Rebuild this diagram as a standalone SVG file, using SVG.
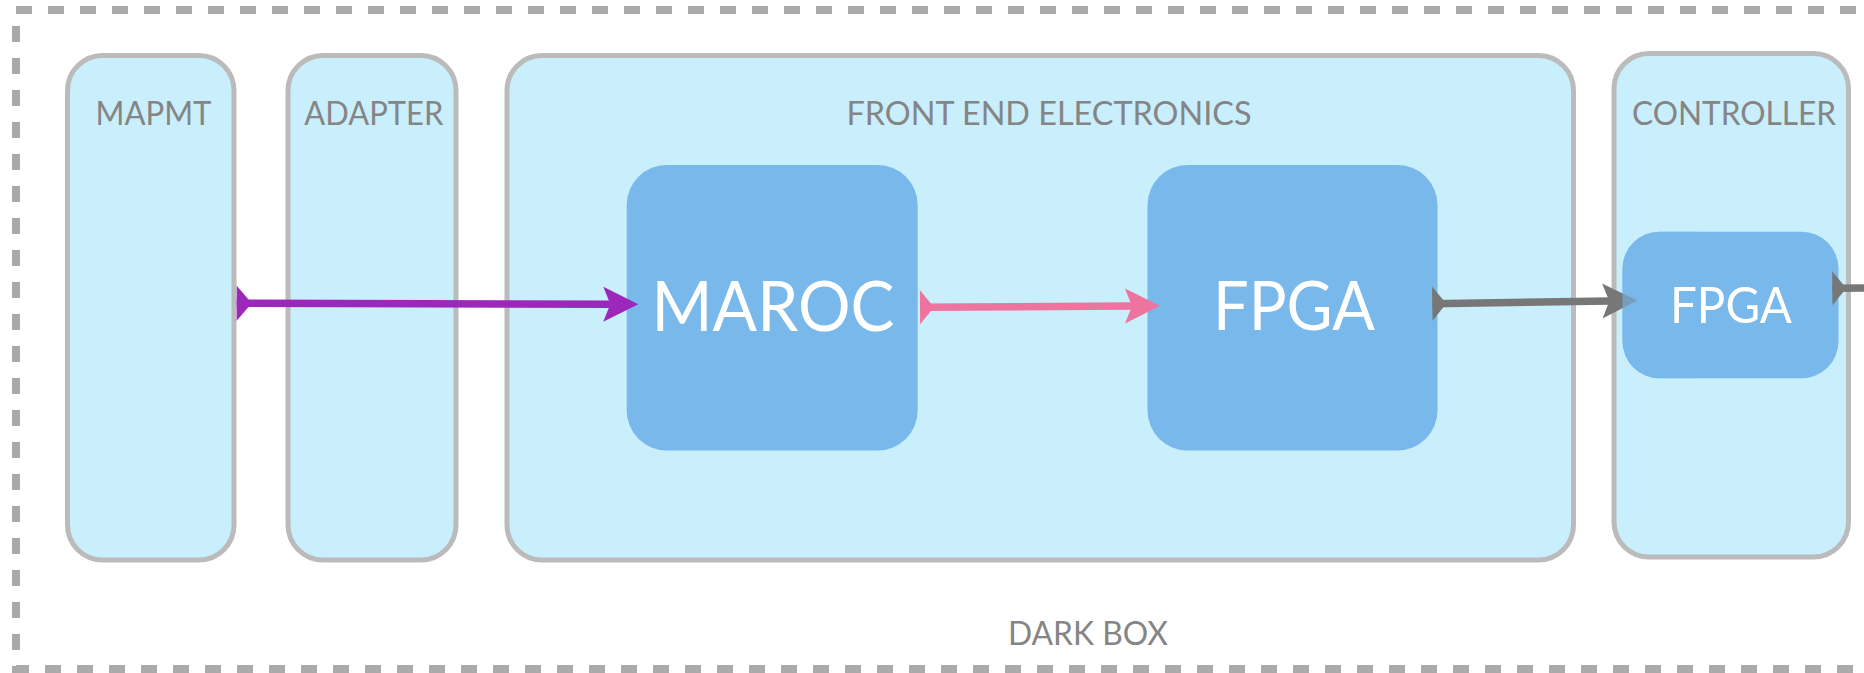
<svg xmlns="http://www.w3.org/2000/svg" xmlns:xlink="http://www.w3.org/1999/xlink" width="1864" height="673" viewBox="0 0 1864 673">
  <style>
    .frame { fill: none; stroke: #aaaaaa; stroke-width: 8; stroke-dasharray: 16 16; }
    .panel { fill: #c9eefc; stroke: #bbbbbb; stroke-width: 5; }
    .chip { fill: #79b8ea; }
    .label { font-family: Lato, "Liberation Sans", sans-serif; font-size: 32.5px; fill: #858585; text-anchor: middle; }
    .chip-label { font-family: Lato, "Liberation Sans", sans-serif; fill: #ffffff; text-anchor: middle; }
    .wire { fill: none; stroke-width: 7.5; stroke-linecap: butt; }
  </style>
  <defs>
    <!-- notched arrowhead; reference point sits at the notch so the line ends inside the head -->
    <marker id="head-purple" markerUnits="userSpaceOnUse" viewBox="-36 -18 37 36" markerWidth="37" markerHeight="36" refX="-28" refY="0" orient="auto" overflow="visible">
      <path d="M0,0 L-35,-17.5 L-28,0 L-35,17.5 Z" fill="#9b28bb"/>
    </marker>
    <marker id="head-pink" markerUnits="userSpaceOnUse" viewBox="-36 -18 37 36" markerWidth="37" markerHeight="36" refX="-28" refY="0" orient="auto" overflow="visible">
      <path d="M0,0 L-35,-17.5 L-28,0 L-35,17.5 Z" fill="#ee74a0"/>
    </marker>
    <marker id="head-gray" markerUnits="userSpaceOnUse" viewBox="-36 -18 37 36" markerWidth="37" markerHeight="36" refX="-28" refY="0" orient="auto" overflow="visible">
      <path d="M0,0 L-35,-17.5 L-28,0 L-35,17.5 Z" fill="#777777"/>
    </marker>
    <!-- triangular tail at the source end -->
    <marker id="tail-purple" markerUnits="userSpaceOnUse" viewBox="-1 -18 17 36" markerWidth="17" markerHeight="36" refX="0" refY="0" orient="auto" overflow="visible">
      <path d="M0,-17.5 L15,0 L0,17.5 Z" fill="#9b28bb"/>
    </marker>
    <marker id="tail-pink" markerUnits="userSpaceOnUse" viewBox="-1 -18 17 36" markerWidth="17" markerHeight="36" refX="0" refY="0" orient="auto" overflow="visible">
      <path d="M0,-17 L14,0 L0,17 Z" fill="#ee74a0"/>
    </marker>
    <marker id="tail-gray" markerUnits="userSpaceOnUse" viewBox="-1 -18 17 36" markerWidth="17" markerHeight="36" refX="0" refY="0" orient="auto" overflow="visible">
      <path d="M0,-17 L14,0 L0,17 Z" fill="#777777"/>
    </marker>
    <!-- only the left part of the controller chip glazes over its incoming arrow -->
    <clipPath id="glaze-clip">
      <rect x="1600" y="220" width="100" height="170"/>
    </clipPath>
  </defs>

  <rect width="1864" height="673" fill="#ffffff"/>

  <!-- enclosing dark box -->
  <g id="dark-box">
    <rect class="frame" x="16" y="10" width="1869" height="659"/>
    <text class="label" x="1088" y="644.5" textLength="160" lengthAdjust="spacingAndGlyphs">DARK BOX</text>
  </g>

  <g id="mapmt">
    <rect class="panel" x="67.5" y="55.5" width="166.5" height="504.5" rx="35" ry="35"/>
    <text class="label" x="153.5" y="125" textLength="116" lengthAdjust="spacingAndGlyphs">MAPMT</text>
  </g>

  <g id="adapter">
    <rect class="panel" x="288" y="55.5" width="168" height="504.5" rx="35" ry="35"/>
    <text class="label" x="373.8" y="125" textLength="139" lengthAdjust="spacingAndGlyphs">ADAPTER</text>
  </g>

  <g id="front-end">
    <rect class="panel" x="507" y="55.5" width="1066.5" height="504.5" rx="35" ry="35"/>
    <text class="label" x="1049" y="125" textLength="405" lengthAdjust="spacingAndGlyphs">FRONT END ELECTRONICS</text>
  </g>

  <g id="controller">
    <rect class="panel" x="1614" y="53.5" width="234.5" height="503.5" rx="35" ry="35"/>
    <text class="label" x="1734" y="124.5" textLength="204" lengthAdjust="spacingAndGlyphs">CONTROLLER</text>
  </g>

  <g id="maroc">
    <rect class="chip" x="626.7" y="165" width="291" height="285.5" rx="40" ry="40"/>
    <text class="chip-label" x="773" y="331" font-size="70" textLength="243" lengthAdjust="spacingAndGlyphs">MAROC</text>
  </g>

  <g id="fee-fpga">
    <rect class="chip" x="1147.5" y="165" width="290" height="285.5" rx="40" ry="40"/>
    <text class="chip-label" x="1294" y="330" font-size="68" textLength="162" lengthAdjust="spacingAndGlyphs">FPGA</text>
  </g>

  <g id="controller-fpga">
    <rect id="controller-fpga-body" class="chip" x="1622.5" y="231.7" width="216" height="146.6" rx="37" ry="37"/>
  </g>

  <!-- signal connectors -->
  <g id="connectors">
    <path class="wire" stroke="#9b28bb" d="M236.7,303.3 L610.3,304.3" marker-start="url(#tail-purple)" marker-end="url(#head-purple)"/>
    <path class="wire" stroke="#ee74a0" d="M920,307.3 L1132,306" marker-start="url(#tail-pink)" marker-end="url(#head-pink)"/>
    <path class="wire" stroke="#777777" d="M1432.3,303.8 L1609.3,300.9" marker-start="url(#tail-gray)" marker-end="url(#head-gray)"/>
    <path class="wire" stroke="#777777" d="M1832.3,288.3 L1870,288" marker-start="url(#tail-gray)"/>
  </g>

  <!-- translucent chip face over the incoming arrowhead, then its label -->
  <g id="controller-fpga-face">
    <use xlink:href="#controller-fpga-body" opacity="0.6" clip-path="url(#glaze-clip)"/>
    <text class="chip-label" x="1731" y="322.7" font-size="50" textLength="122" lengthAdjust="spacingAndGlyphs">FPGA</text>
  </g>
</svg>
